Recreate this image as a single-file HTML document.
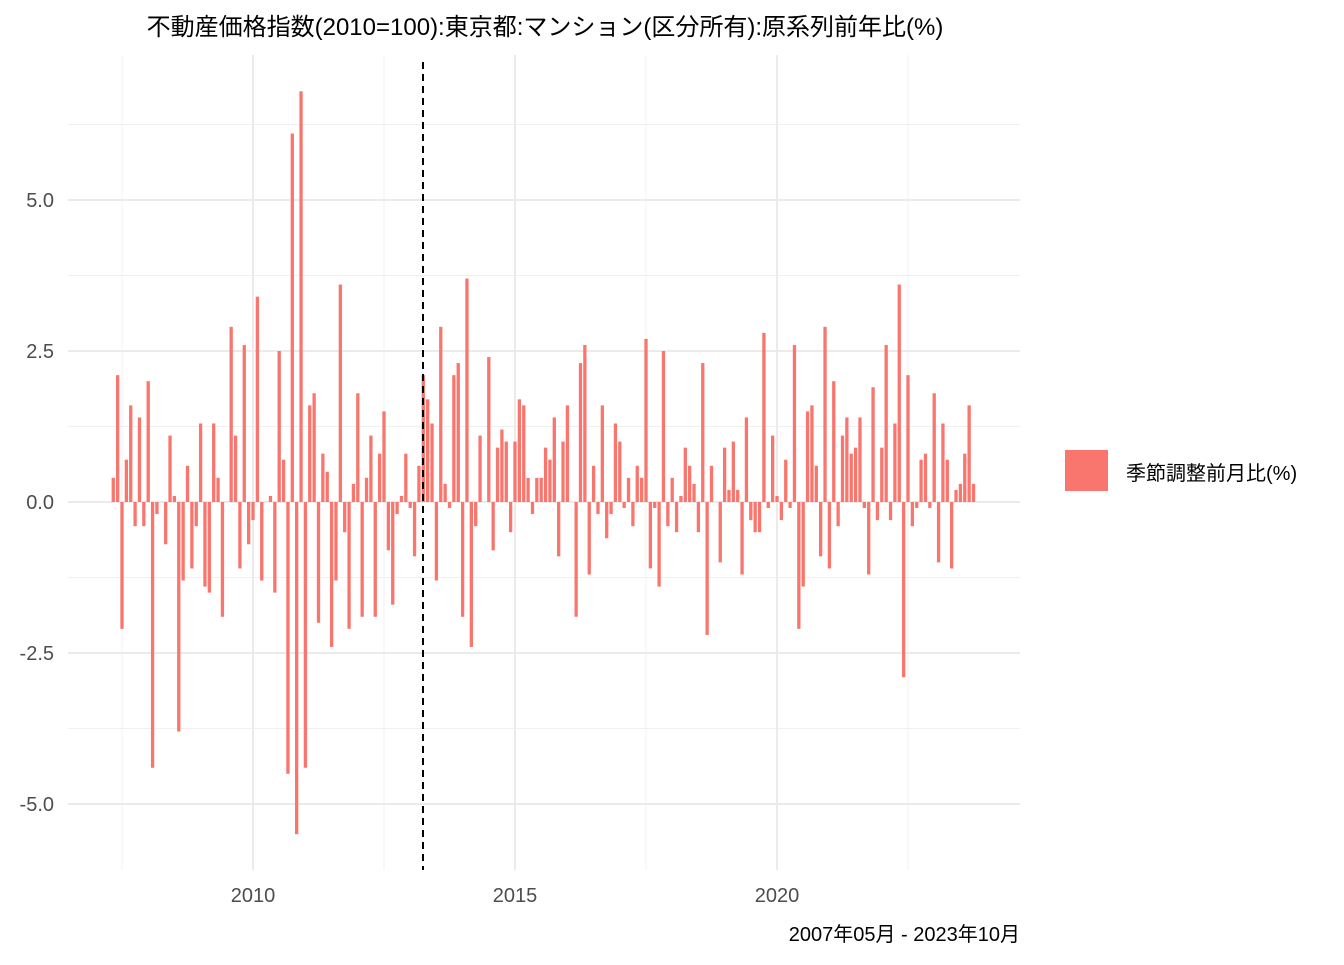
<!DOCTYPE html>
<html><head><meta charset="utf-8"><style>
body{margin:0;background:#fff}
svg text{font-family:"Liberation Sans","Noto Sans CJK JP",sans-serif}
</style></head><body>
<svg id="chart" width="1344" height="960" xmlns="http://www.w3.org/2000/svg">
<rect width="1344" height="960" fill="#fff"/>
<g id="grid"></g>
<g id="bars"></g>
<line x1="423" x2="423" y1="62" y2="870" stroke="#000" stroke-width="2" stroke-dasharray="7,5"/>
<g id="axes"></g>
<text x="545" y="35" font-size="24" text-anchor="middle" fill="#000">不動産価格指数(2010=100):東京都:マンション(区分所有):原系列前年比(%)</text>
<rect x="1065" y="450" width="43" height="41" fill="#F8766D"/>
<text x="1126" y="480" font-size="20" fill="#000">季節調整前月比(%)</text>
<text x="1020" y="941" font-size="20" text-anchor="end" fill="#000">2007年05月 - 2023年10月</text>
</svg>
<script>
const startYear = 2007, startMonth = 5;
const values = [0.4,2.1,-2.1,0.7,1.6,-0.4,1.4,-0.4,2.0,-4.4,
-0.2,0,-0.7,1.1,0.1,-3.8,-1.3,0.6,-1.1,-0.4,
1.3,-1.4,-1.5,1.3,0.4,-1.9,0,2.9,1.1,-1.1,
2.6,-0.7,-0.3,3.4,-1.3,0,0.1,-1.5,2.5,0.7,
-4.5,6.1,-5.5,6.8,-4.4,1.6,1.8,-2.0,0.8,0.5,
-2.4,-1.3,3.6,-0.5,-2.1,0.3,1.8,-1.9,0.4,1.1,
-1.9,0.8,1.5,-0.8,-1.7,-0.2,0.1,0.8,-0.1,-0.9,
0.6,2.1,1.7,1.3,-1.3,2.9,0.3,-0.1,2.1,2.3,
-1.9,3.7,-2.4,-0.4,1.1,0,2.4,-0.8,0.9,1.2,
1.0,-0.5,1.0,1.7,1.6,0.4,-0.2,0.4,0.4,0.9,
0.7,1.4,-0.9,1.0,1.6,0,-1.9,2.3,2.6,-1.2,
0.6,-0.2,1.6,-0.6,-0.2,1.3,1.0,-0.1,0.4,-0.4,
0.6,0.4,2.7,-1.1,-0.1,-1.4,2.5,-0.4,0.4,-0.5,
0.1,0.9,0.6,0.3,-0.5,2.3,-2.2,0.6,0,-1.0,
0.9,0.2,1.0,0.2,-1.2,1.4,-0.3,-0.5,-0.5,2.8,
-0.1,1.1,0.1,-0.3,0.7,-0.1,2.6,-2.1,-1.4,1.5,
1.6,0.6,-0.9,2.9,-1.1,2.0,-0.4,1.1,1.4,0.8,
0.9,1.4,-0.1,-1.2,1.9,-0.3,0.9,2.6,-0.3,1.3,
3.6,-2.9,2.1,-0.4,-0.1,0.7,0.8,-0.1,1.8,-1.0,
1.3,0.7,-1.1,0.2,0.3,0.8,1.6,0.3];
const yTicks = [-5.0,-2.5,0.0,2.5,5.0];
const yTickLabels = ["-5.0","-2.5","0.0","2.5","5.0"];
const yMinor = [-3.75,-1.25,1.25,3.75,6.25];
const xTicks = [2010,2015,2020];
const xMinor = [2007.5,2012.5,2017.5,2022.5];

const NS="http://www.w3.org/2000/svg";
const X = t => 253 + (t-2010)*52.4;
const Y = v => 502 - v*60.4;
function el(tag, attrs, parent){const e=document.createElementNS(NS,tag);for(const k in attrs)e.setAttribute(k,attrs[k]);parent.appendChild(e);return e;}
const grid=document.getElementById('grid'), bars=document.getElementById('bars'), axes=document.getElementById('axes');
const L=68,R=1020,T=55,B=870;
yMinor.forEach(v=>{const l=el('line',{x1:L,x2:R,y1:Y(v),y2:Y(v),stroke:'#f0f0f0','stroke-width':1},grid);

});
xMinor.forEach(t=>{const l=el('line',{x1:X(t),x2:X(t),y1:T,y2:B,stroke:'#f0f0f0','stroke-width':1},grid);

});
yTicks.forEach((v,i)=>{const l=el('line',{x1:L,x2:R,y1:Y(v),y2:Y(v),stroke:'#ebebeb','stroke-width':2},grid);


const t=el('text',{x:54,y:Y(v)+7,'font-size':20,'text-anchor':'end',fill:'#4d4d4d'},axes);t.textContent=yTickLabels[i];

});
xTicks.forEach(y=>{const l=el('line',{x1:X(y),x2:X(y),y1:T,y2:B,stroke:'#ebebeb','stroke-width':2},grid);


const t=el('text',{x:X(y),y:902,'font-size':20,'text-anchor':'middle',fill:'#4d4d4d'},axes);t.textContent=String(y);

});
values.forEach((v,i)=>{const m=startMonth-1+i;const t=startYear+m/12;const cx=X(t);
const y0=Y(Math.max(v,0)), y1=Y(Math.min(v,0));
const r=el('rect',{x:cx-1.65,y:y0,width:3.3,height:Math.max(y1-y0,0),fill:'#F8766D'},bars);

});
</script>
</body></html>
